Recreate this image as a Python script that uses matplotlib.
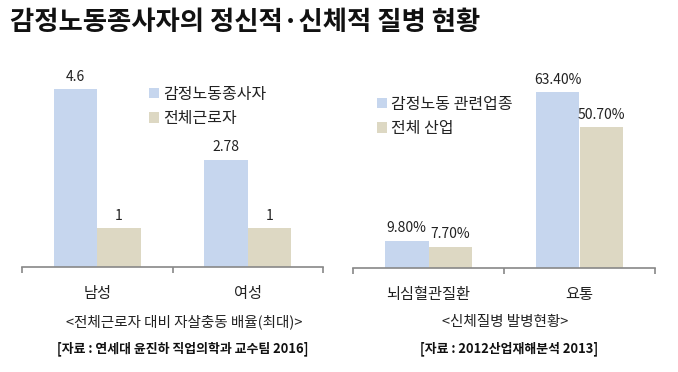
import matplotlib
matplotlib.use("Agg")
import matplotlib.pyplot as plt
import numpy as np

plt.rcParams['font.family'] = ['Noto Sans CJK KR', 'DejaVu Sans']

title = "감정노동종사자의 정신적·신체적 질병 현황"

left_categories = ["남성", "여성"]
left_series_names = ["감정노동종사자", "전체근로자"]
left_emotional = [4.6, 2.78]
left_all = [1, 1]
left_caption = "<전체근로자 대비 자살충동 배율(최대)>"
left_source = "[자료 : 연세대 윤진하 직업의학과 교수팀 2016]"

right_categories = ["뇌심혈관질환", "요통"]
right_series_names = ["감정노동 관련업종", "전체 산업"]
right_emotional = [9.8, 63.4]
right_all = [7.7, 50.7]
right_caption = "<신체질병 발병현황>"
right_source = "[자료 : 2012산업재해분석 2013]"

BLUE = "#C6D6EE"
TAN = "#DDD8C3"
AXC = "#888888"

W, H = 678, 372
fig = plt.figure(figsize=(W / 100, H / 100), dpi=100)
fig.patch.set_facecolor("white")


def px_axes(x0, x1, ybot, ytop):
    return fig.add_axes([x0 / W, 1 - ybot / H, (x1 - x0) / W, (ybot - ytop) / H])


def draw_panel(ax, cats, names, s1, s2, ylim, fmt, leg_anchor):
    x = np.arange(len(cats))
    bw = 0.29
    b1 = ax.bar(x - bw / 2, s1, bw, color=BLUE, label=names[0])
    b2 = ax.bar(x + bw / 2, s2, bw, color=TAN, label=names[1])
    for bars, vals in ((b1, s1), (b2, s2)):
        for r, v in zip(bars, vals):
            ax.annotate(fmt(v), (r.get_x() + r.get_width() / 2, v),
                        xytext=(0, 4), textcoords="offset points",
                        ha="center", va="bottom", fontsize=10, color="#222222")
    ax.set_xlim(-0.5, len(cats) - 0.5)
    ax.set_ylim(*ylim)
    for s in ("top", "right", "left"):
        ax.spines[s].set_visible(False)
    ax.spines["bottom"].set_color(AXC)
    ax.spines["bottom"].set_linewidth(1.2)
    ax.set_yticks([])
    ax.set_xticks(x)
    ax.set_xticklabels(cats, fontsize=11, color="#222222")
    ax.tick_params(axis="x", which="major", length=0, pad=13)
    ax.set_xticks(np.arange(-0.5, len(cats), 1.0), minor=True)
    ax.tick_params(axis="x", which="minor", length=4, width=1.2, color=AXC, direction="out")
    ax.patch.set_alpha(0)
    leg = ax.legend(loc="upper left", bbox_to_anchor=(leg_anchor[0] / W, 1 - leg_anchor[1] / H),
                    bbox_transform=fig.transFigure, frameon=False, fontsize=11.5,
                    handlelength=0.6, handleheight=0.6, handletextpad=0.3,
                    labelspacing=0.45, borderpad=0, borderaxespad=0)
    for t in leg.get_texts():
        t.set_color("#222222")


ax1 = px_axes(22, 323, 267, 74)
draw_panel(ax1, left_categories, left_series_names, left_emotional, left_all,
           (0, 5), lambda v: f"{v:g}", (149, 86))

ax2 = px_axes(353, 655, 268, 74)
draw_panel(ax2, right_categories, right_series_names, right_emotional, right_all,
           (0, 70), lambda v: f"{v:.2f}%", (377, 96))

fig.text(10 / W, 1 - 22 / H, title, fontsize=19, fontweight="bold",
         ha="left", va="center", color="#111111")

fig.text(184 / W, 1 - 322 / H, left_caption, fontsize=10.5, ha="center", va="center", color="#222222")
fig.text(505 / W, 1 - 322 / H, right_caption, fontsize=10.5, ha="center", va="center", color="#222222")
fig.text(183 / W, 1 - 349 / H, left_source, fontsize=9.3, fontweight="bold",
         ha="center", va="center", color="#111111")
fig.text(509 / W, 1 - 349 / H, right_source, fontsize=9.3, fontweight="bold",
         ha="center", va="center", color="#111111")

fig.savefig("out.png", dpi=100, facecolor="white")
